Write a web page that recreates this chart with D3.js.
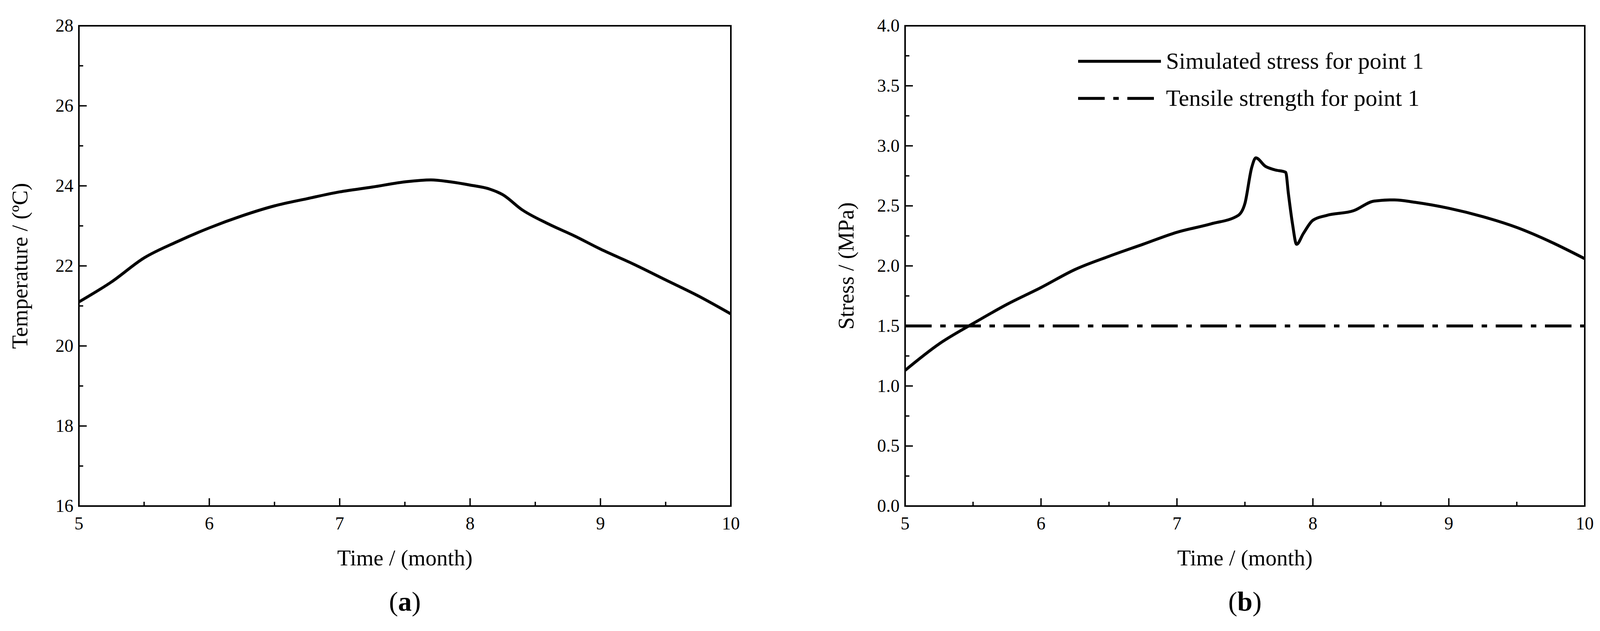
<!DOCTYPE html>
<html><head><meta charset="utf-8">
<script src="https://cdn.jsdelivr.net/npm/d3@7"></script>
<style>body{margin:0;background:#fff}</style></head>
<body><svg id="c" width="4106" height="1616"></svg>
<script>
const tempX = [5,5.25,5.5,5.75,6,6.25,6.5,6.75,7,7.25,7.5,7.7,7.85,8,8.15,8.25,8.4,8.6,8.8,9,9.25,9.5,9.75,10];
const tempY = [21.1,21.6,22.2,22.6,22.95,23.25,23.5,23.68,23.85,23.97,24.1,24.15,24.1,24.02,23.92,23.78,23.4,23.05,22.75,22.42,22.05,21.65,21.25,20.8];
const stressX = [5,5.25,5.5,5.75,6,6.25,6.5,6.75,7,7.25,7.45,7.5,7.55,7.58,7.65,7.72,7.8,7.82,7.85,7.88,7.93,8.0,8.1,8.3,8.45,8.6,8.75,9,9.25,9.5,9.75,10];
const stressY = [1.13,1.35,1.52,1.68,1.82,1.97,2.08,2.18,2.28,2.35,2.42,2.52,2.82,2.9,2.83,2.8,2.78,2.6,2.35,2.18,2.27,2.38,2.42,2.46,2.54,2.55,2.53,2.48,2.41,2.32,2.2,2.06];
const strengthX = [5,10];
const strengthY = [1.5,1.5];
const xTicks = [5,6,7,8,9,10];
const tempTicks = [16,18,20,22,24,26,28];
const stressTicks = [0,0.5,1,1.5,2,2.5,3,3.5,4];
const legendLabels = ["Simulated stress for point 1","Tensile strength for point 1"];

const svg = d3.select("#c");
const font = "'Liberation Serif', 'Times New Roman', serif";

function panel(L,R,T,B,yDom,yTicks,yFmt,yLabel,tag,series,legend){
  const x = d3.scaleLinear().domain([5,10]).range([L,R]);
  const y = d3.scaleLinear().domain(yDom).range([B,T]);
  const g = svg.append("g");
  const minorX = d3.range(5.5,10,1);
  const minorY = yTicks.slice(0,-1).map((v,i)=>(v+yTicks[i+1])/2);
  xTicks.forEach(v=>g.append("line").attr("x1",x(v)).attr("x2",x(v)).attr("y1",B).attr("y2",B-20).attr("stroke","#000").attr("stroke-width",3.5));
  minorX.forEach(v=>g.append("line").attr("x1",x(v)).attr("x2",x(v)).attr("y1",B).attr("y2",B-11).attr("stroke","#000").attr("stroke-width",3.5));
  yTicks.forEach(v=>g.append("line").attr("x1",L).attr("x2",L+20).attr("y1",y(v)).attr("y2",y(v)).attr("stroke","#000").attr("stroke-width",3.5));
  minorY.forEach(v=>g.append("line").attr("x1",L).attr("x2",L+11).attr("y1",y(v)).attr("y2",y(v)).attr("stroke","#000").attr("stroke-width",3.5));
  g.append("rect").attr("x",L).attr("y",T).attr("width",R-L).attr("height",B-T).attr("fill","none").attr("stroke","#000").attr("stroke-width",4);
  xTicks.forEach(v=>g.append("text").attr("x",x(v)).attr("y",B+60).attr("text-anchor","middle").attr("font-family",font).attr("font-size",46).text(v));
  yTicks.forEach(v=>g.append("text").attr("x",L-14).attr("y",y(v)+15).attr("text-anchor","end").attr("font-family",font).attr("font-size",46).text(yFmt(v)));
  g.append("text").attr("x",(L+R)/2).attr("y",B+152).attr("text-anchor","middle").attr("font-family",font).attr("font-size",57).text("Time / (month)");
  g.append("text").attr("transform",`translate(${L-132},${(T+B)/2}) rotate(-90)`).attr("text-anchor","middle").attr("font-family",font).attr("font-size",57).text(yLabel);
  const t = g.append("text").attr("x",(L+R)/2).attr("y",B+268).attr("text-anchor","middle").attr("font-family",font).attr("font-size",70);
  t.append("tspan").text("(");t.append("tspan").attr("font-weight","bold").text(tag);t.append("tspan").text(")");
  const line = d3.line().x(d=>x(d[0])).y(d=>y(d[1])).curve(d3.curveMonotoneX);
  g.append("clipPath").attr("id","cp"+tag).append("rect").attr("x",L).attr("y",T).attr("width",R-L).attr("height",B-T);
  series.forEach(s=>{
    g.append("path").attr("d",line(d3.zip(s.x,s.y))).attr("fill","none").attr("stroke","#000").attr("stroke-width",7.5)
     .attr("stroke-dasharray",s.dash||null).attr("clip-path",`url(#cp${tag})`);
  });
  if(legend){
    legend.forEach((lab,i)=>{
      const yy = T+91+i*95;
      g.append("line").attr("x1",2760).attr("x2",2972).attr("y1",yy).attr("y2",yy).attr("stroke","#000").attr("stroke-width",7.5).attr("stroke-dasharray",series[i].dash||null);
      g.append("text").attr("x",2985).attr("y",yy+19).attr("font-family",font).attr("font-size",60).text(lab);
    });
  }
}
panel(202,1871,66,1296,[16,28],tempTicks,d=>d,"Temperature / (ºC)","a",[{x:tempX,y:tempY}],null);
panel(2317,4057,66,1296,[0,4],stressTicks,d3.format(".1f"),"Stress / (MPa)","b",
  [{x:stressX,y:stressY},{x:strengthX,y:strengthY,dash:"68,22,14,22"}],legendLabels);
</script></body></html>
